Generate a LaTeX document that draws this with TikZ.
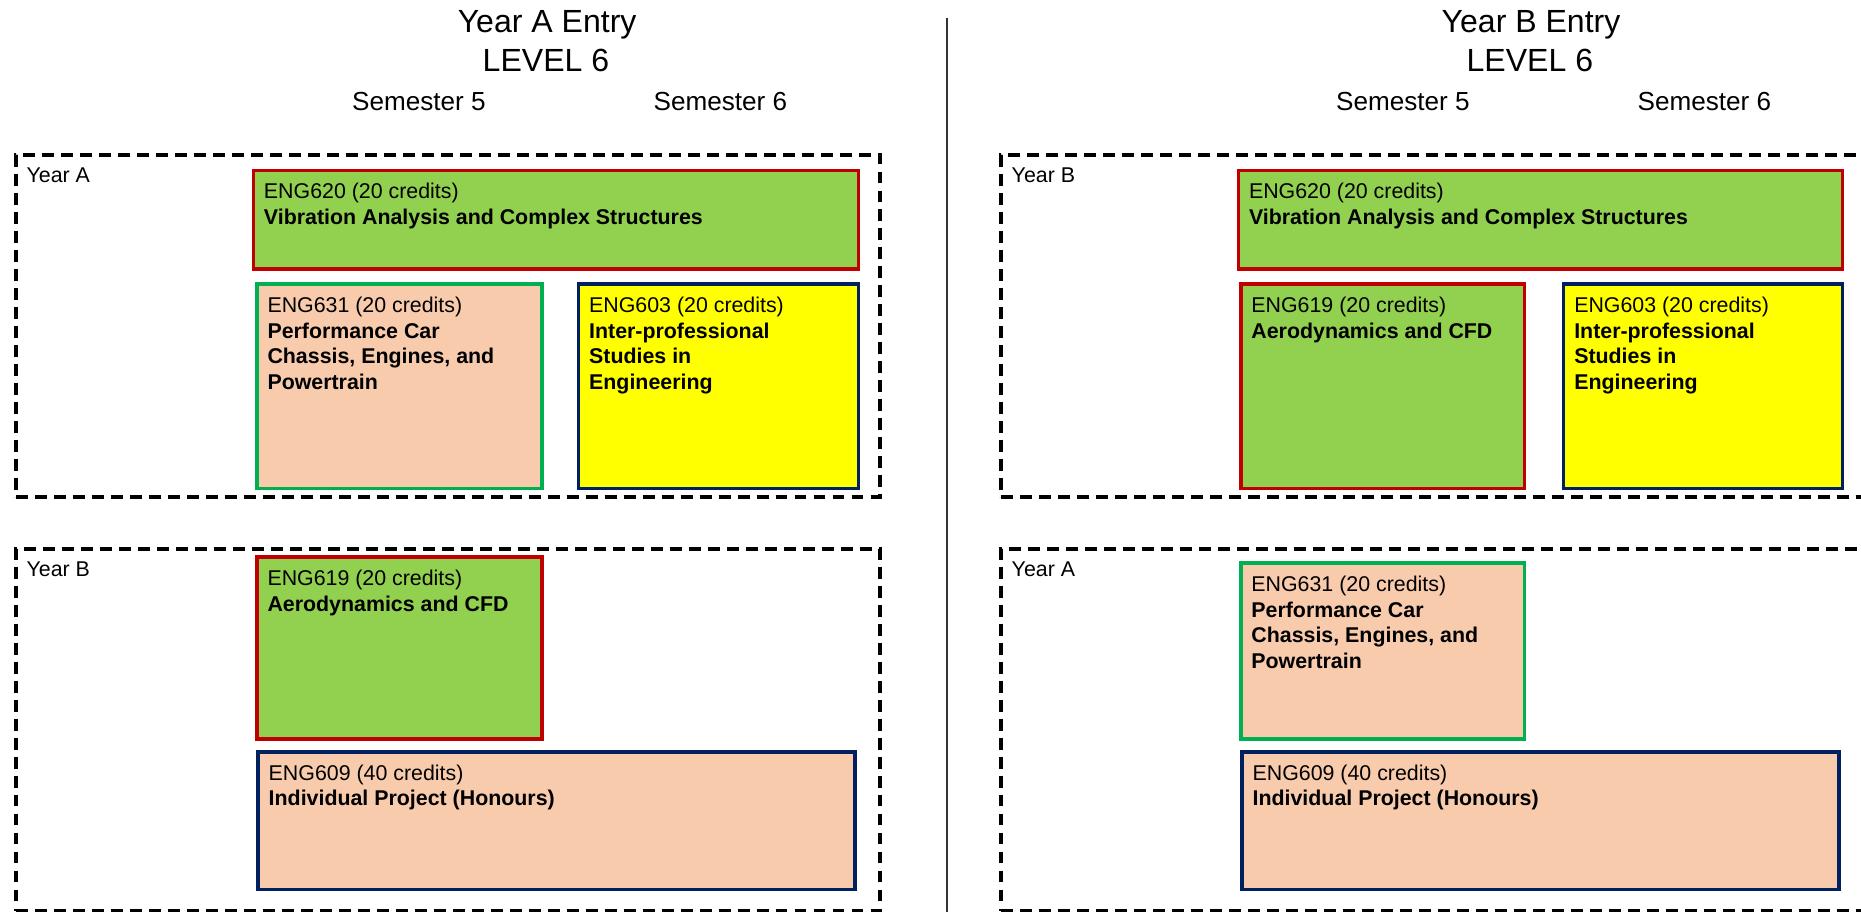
\documentclass[tikz,border=0pt]{standalone}
\usepackage{fontspec}
\setmainfont{Liberation Sans}
\usetikzlibrary{positioning}

\definecolor{modgreen}{HTML}{92D050}
\definecolor{modpeach}{HTML}{F8CBAD}
\definecolor{modyellow}{HTML}{FFFF00}
\definecolor{edgered}{HTML}{C00000}
\definecolor{edgegreen}{HTML}{00B050}
\definecolor{edgenavy}{HTML}{002060}

\begin{document}
\begin{tikzpicture}[x=0.5pt, y=-0.5pt,
                year box/.style={draw, line width=1.5pt, dash pattern=on 5pt off 3pt,
                  anchor=north west, inner sep=0pt, minimum width=364pt},
                module/.style={draw, line width=1.5pt, anchor=north west, inner sep=0pt},
                title/.style={anchor=base, font=\fontsize{13.5}{16.5}\selectfont},
                semester/.style={anchor=base, font=\fontsize{11}{13}\selectfont},
                label/.style={anchor=north west, inner sep=0pt, align=left,
                  font=\fontsize{9}{10.75}\selectfont}]

  \useasboundingbox (0,0) rectangle (1568,768);
  \clip (0,0) rectangle (1568,768);

  % headings
  \node[title] (titleA) at (461,27) {Year A Entry};
  \node[title] (levelA) at (460,60) {LEVEL 6};
  \node[semester] (semA5) at (353,93) {Semester 5};
  \node[semester] (semA6) at (607,93) {Semester 6};
  \node[title] (titleB) at (1290,27) {Year B Entry};
  \node[title] (levelB) at (1289,60) {LEVEL 6};
  \node[semester] (semB5) at (1182,93) {Semester 5};
  \node[semester] (semB6) at (1436,93) {Semester 6};

  \coordinate (divtop) at (798,15);
  \coordinate (divbot) at (798,768);
  \draw[black!80, line width=0.6pt] (divtop) -- (divbot);

  % Year A entry
  \node[year box, minimum height=144pt] (LA) at (12,129) {};
  \node[year box, minimum height=152.5pt] (LB) at (12,461) {};
  \node[label, below right=5.8pt and 5pt of LA.north west] (LAt) {Year A};
  \node[label, below right=5.8pt and 5pt of LB.north west] (LBt) {Year B};

  \node[module, fill=modgreen, draw=edgered, minimum width=255pt, minimum height=41.5pt]
    (L620) at (212,142) {};
  \node[module, fill=modpeach, draw=edgegreen, minimum width=120pt, minimum height=86pt]
    (L631) at (215,238) {};
  \node[module, fill=modyellow, draw=edgenavy, minimum width=118pt, minimum height=86pt]
    (L603) at (486,238) {};
  \node[module, fill=modgreen, draw=edgered, minimum width=120pt, minimum height=76.5pt]
    (L619) at (215,468) {};
  \node[module, fill=modpeach, draw=edgenavy, minimum width=251.5pt, minimum height=58pt]
    (L609) at (216,632) {};

  \node[label, below right=6pt and 5pt of L620.north west] (L620t)
    {ENG620 (20 credits)\\\textbf{Vibration Analysis and Complex Structures}};
  \node[label, below right=6pt and 5pt of L631.north west] (L631t)
    {ENG631 (20 credits)\\\textbf{Performance Car}\\\textbf{Chassis, Engines, and}\\\textbf{Powertrain}};
  \node[label, below right=6pt and 5pt of L603.north west] (L603t)
    {ENG603 (20 credits)\\\textbf{Inter-professional}\\\textbf{Studies in}\\\textbf{Engineering}};
  \node[label, below right=6pt and 5pt of L619.north west] (L619t)
    {ENG619 (20 credits)\\\textbf{Aerodynamics and CFD}};
  \node[label, below right=6pt and 5pt of L609.north west] (L609t)
    {ENG609 (40 credits)\\\textbf{Individual Project (Honours)}};

  % Year B entry
  \node[year box, minimum height=144pt, minimum width=380pt] (RB) at (842,129) {};
  \node[year box, minimum height=152.5pt, minimum width=380pt] (RA) at (842,461) {};
  \node[label, below right=5.8pt and 5pt of RB.north west] (RBt) {Year B};
  \node[label, below right=5.8pt and 5pt of RA.north west] (RAt) {Year A};

  \node[module, fill=modgreen, draw=edgered, minimum width=254.5pt, minimum height=41.5pt]
    (R620) at (1042,142) {};
  \node[module, fill=modgreen, draw=edgered, minimum width=119.5pt, minimum height=86pt]
    (R619) at (1044,238) {};
  \node[module, fill=modyellow, draw=edgenavy, minimum width=117.5pt, minimum height=86pt]
    (R603) at (1316,238) {};
  \node[module, fill=modpeach, draw=edgegreen, minimum width=119.5pt, minimum height=74pt]
    (R631) at (1044,473) {};
  \node[module, fill=modpeach, draw=edgenavy, minimum width=251.5pt, minimum height=58pt]
    (R609) at (1045,632) {};

  \node[label, below right=6pt and 5pt of R620.north west] (R620t)
    {ENG620 (20 credits)\\\textbf{Vibration Analysis and Complex Structures}};
  \node[label, below right=6pt and 5pt of R619.north west] (R619t)
    {ENG619 (20 credits)\\\textbf{Aerodynamics and CFD}};
  \node[label, below right=6pt and 5pt of R603.north west] (R603t)
    {ENG603 (20 credits)\\\textbf{Inter-professional}\\\textbf{Studies in}\\\textbf{Engineering}};
  \node[label, below right=6pt and 5pt of R631.north west] (R631t)
    {ENG631 (20 credits)\\\textbf{Performance Car}\\\textbf{Chassis, Engines, and}\\\textbf{Powertrain}};
  \node[label, below right=6pt and 5pt of R609.north west] (R609t)
    {ENG609 (40 credits)\\\textbf{Individual Project (Honours)}};
\end{tikzpicture}
\end{document}
